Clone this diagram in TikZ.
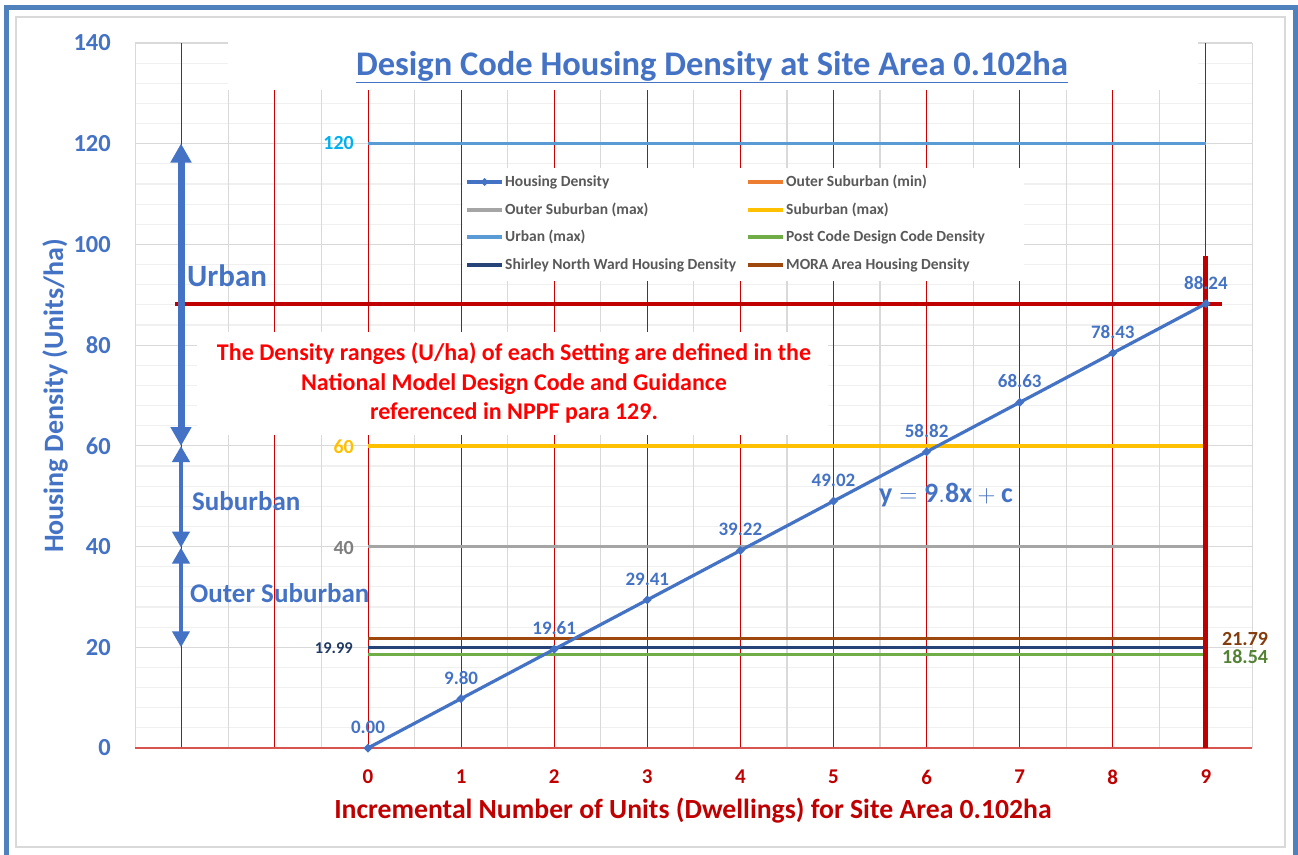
\documentclass[tikz,border=0pt]{standalone}
\usepackage{fontspec}
\setmainfont{Carlito}
\usetikzlibrary{arrows.meta}
\definecolor{blueS}{HTML}{4472C4}
\definecolor{frameblue}{HTML}{4F81BD}
\definecolor{urbanblue}{HTML}{5B9BD5}
\definecolor{cyanlbl}{HTML}{00B0F0}
\definecolor{yellowS}{HTML}{FFC000}
\definecolor{grayS}{HTML}{A5A5A5}
\definecolor{graylbl}{HTML}{7F7F7F}
\definecolor{brownS}{HTML}{9E480E}
\definecolor{brownlbl}{HTML}{843C0C}
\definecolor{navyS}{HTML}{264478}
\definecolor{navylbl}{HTML}{1F3864}
\definecolor{greenS}{HTML}{70AD47}
\definecolor{greenlbl}{HTML}{548235}
\definecolor{orangeS}{HTML}{ED7D31}
\definecolor{darkredS}{HTML}{C00000}
\definecolor{brightred}{HTML}{FF0000}
\definecolor{legtext}{HTML}{595959}
\definecolor{majgrid}{HTML}{D9D9D9}
\definecolor{mingrid}{HTML}{F0F0F0}
\definecolor{axisred}{HTML}{D9534F}
\newcommand\fsz[1]{\fontsize{#1}{#1}\selectfont}
\tikzset{
  minorgrid/.style={mingrid, line width=1.2pt},
  majorgrid/.style={majgrid, line width=1.2pt},
  redgrid/.style={red!80!black, line width=1pt},
  series/.style={line width=3.5pt},
  dlabel/.style={text=blueS, font=\bfseries\fsz{19}, inner sep=0pt},
  ytick/.style={text=blueS, font=\bfseries\fsz{24.5}, anchor=east, inner sep=0pt},
  xtick/.style={text=darkredS, font=\bfseries\fsz{21}, inner sep=0pt},
  legline/.style={line width=3.3pt},
  legtxt/.style={text=legtext, font=\bfseries\fsz{15.5}, anchor=west, inner sep=0pt},
  rangearrow/.style={blueS, line width=4.5pt, {Triangle[width=17pt,length=16pt]}-{Triangle[width=17pt,length=16pt]}},
  rangelbl/.style={text=blueS, anchor=west, inner sep=0pt}
}
\begin{document}
\begin{tikzpicture}[x=1pt,y=-1pt]
\useasboundingbox (0,0) rectangle (1298,854);
\fill[white] (0,0) rectangle (1298,854);
% chart border and outer frame
\draw[majgrid, line width=1.5pt] (16,17) rectangle (1285,847);
\draw[frameblue, line width=5pt] (6.5,856) -- (6.5,7.5) -- (1295,7.5) -- (1295,856);

% ---------- grid ----------
\begin{scope}[shift={(368,748)}, x=93.1pt, y=5.036pt]
  \foreach \v in {4,8,...,140} \draw[minorgrid] (-2.5,\v) -- (9.5,\v);
  \foreach \v in {20,40,...,140} \draw[majorgrid] (-2.5,\v) -- (9.5,\v);
  \foreach \u in {-2.5,-1.5,...,9.6} \draw[majorgrid] (\u,0) -- (\u,140);
  \foreach \u in {-2,...,9} \draw[redgrid] (\u,0) -- (\u,140);
  \draw[axisred, line width=1.6pt] (-2.5,0) -- (9.5,0);
\end{scope}

% ---------- white boxes covering grid ----------
\fill[white] (228,38) rectangle (1198,89.5);
\fill[white] (463,167.5) rectangle (1024,281);
\fill[white] (197,332) rectangle (828,435);

% ---------- series ----------
\begin{scope}[shift={(368,748)}, x=93.1pt, y=5.036pt]
  \draw[series, urbanblue] (0,120) -- (9,120);
  \draw[series, yellowS] (0,60) -- (9,60);
  \draw[series, grayS] (0,40) -- (9,40);
  \draw[series, orangeS] (0,20) -- (9,20);
  \draw[series, brownS] (0,21.79) -- (9,21.79);
  \draw[series, navyS] (0,19.99) -- (9,19.99);
  \draw[series, greenS] (0,18.54) -- (9,18.54);
  % thick red markers
  \draw[darkredS, line width=4pt] (-2.073,88.24) -- (9.173,88.24);
  \draw[darkredS, line width=5pt] (9,97.7) -- (9,0);
  % housing density
  \draw[blueS, line width=3.2pt, line join=round] (0,0)
     \foreach \i in {1,...,9} { -- (\i,{9.8039*\i}) };
  \foreach \i/\t in {0/0.00,1/9.80,2/19.61,3/29.41,4/39.22,5/49.02,6/58.82,7/68.63,8/78.43,9/88.24} {
    \fill[blueS] (\i,{9.8039*\i}) ++(-4.5pt,0) -- ++(4.5pt,4.5pt) -- ++(4.5pt,-4.5pt) -- ++(-4.5pt,-4.5pt) -- cycle;
    \node[dlabel] (dl\i) at ([yshift=21pt]\i,{9.8039*\i}) {\t};
  }
\end{scope}

% ---------- range arrows ----------
\draw[blueS, line width=7pt, {Triangle[width=20pt,length=19pt]}-{Triangle[width=20pt,length=19pt]}] (181,143.5) -- (181,446);
\draw[rangearrow] (181,446) -- (181,547.6);
\draw[rangearrow] (181,547.6) -- (181,647.3);
\node[rangelbl, font=\bfseries\fsz{31}] (lurban) at (187,276) {Urban};
\node[rangelbl, font=\bfseries\fsz{27}] (lsub) at (192,501) {Suburban};
\node[rangelbl, font=\bfseries\fsz{27}] (louter) at (190,593) {Outer Suburban};

% ---------- series value labels ----------
\node[text=cyanlbl, font=\bfseries\fsz{20}, anchor=east, inner sep=0pt] (l120) at (354,143) {120};
\node[text=yellowS, font=\bfseries\fsz{20}, anchor=east, inner sep=0pt] (l60) at (354,447) {60};
\node[text=graylbl, font=\bfseries\fsz{20}, anchor=east, inner sep=0pt] (l40) at (354,548) {40};
\node[text=navylbl, font=\bfseries\fsz{16.5}, anchor=east, inner sep=0pt] (l1999) at (353,648) {19.99};
\node[text=brownlbl, font=\bfseries\fsz{20}, anchor=west, inner sep=0pt] (l2179) at (1222,639) {21.79};
\node[text=greenlbl, font=\bfseries\fsz{20}, anchor=west, inner sep=0pt] (l1854) at (1222,657) {18.54};

% ---------- equation ----------
\node[text=blueS, font=\fsz{28}, anchor=west, inner sep=0pt] (eq) at (879,495) {$\mathbf{y = 9.8x + c}$};

% ---------- note ----------
\node[text=brightred, font=\bfseries\fontsize{24}{29.5}\selectfont, align=center, inner sep=0pt] (note) at (514,383)
  {The Density ranges (U/ha) of each Setting are defined in the\\
   National Model Design Code and Guidance\\
   referenced in NPPF para 129.};

% ---------- legend ----------
\draw[legline, blueS] (467,182) -- (502,182);
\fill[blueS] (484.5,182) ++(-4pt,0) -- ++(4pt,4pt) -- ++(4pt,-4pt) -- ++(-4pt,-4pt) -- cycle;
\node[legtxt] (lg1) at (505,182) {Housing Density};
\draw[legline, orangeS] (748,182) -- (783,182);
\node[legtxt] (lg2) at (786,182) {Outer Suburban (min)};
\draw[legline, grayS] (467,210) -- (502,210);
\node[legtxt] (lg3) at (505,210) {Outer Suburban (max)};
\draw[legline, yellowS] (748,210) -- (783,210);
\node[legtxt] (lg4) at (786,210) {Suburban (max)};
\draw[legline, urbanblue] (467,237) -- (502,237);
\node[legtxt] (lg5) at (505,237) {Urban (max)};
\draw[legline, greenS] (748,237) -- (783,237);
\node[legtxt] (lg6) at (786,237) {Post Code Design Code Density};
\draw[legline, navyS] (467,265) -- (502,265);
\node[legtxt] (lg7) at (505,265) {Shirley North Ward Housing Density};
\draw[legline, brownS] (748,265) -- (783,265);
\node[legtxt] (lg8) at (786,265) {MORA Area Housing Density};

% ---------- axes labels ----------
\foreach \v in {0,20,...,140} \node[ytick] (yt\v) at (111,{748-5.036*\v}) {\v};
\foreach \i in {0,...,9} \node[xtick] (xt\i) at ({368+93.1*\i},777) {\i};
\node[text=blueS, font=\bfseries\fsz{28}, rotate=90, inner sep=0pt] (ytitle) at (55,396) {Housing Density (Units/ha)};
\node[text=darkredS, font=\bfseries\fsz{27.7}, inner sep=0pt] (xtitle) at (693,811) {Incremental Number of Units (Dwellings) for Site Area 0.102ha};

% ---------- title ----------
\node[text=blueS, font=\bfseries\fsz{34.5}, inner sep=0pt] (title) at (712,67) {\underline{Design Code Housing Density at Site Area 0.102ha}};
\end{tikzpicture}
\end{document}
